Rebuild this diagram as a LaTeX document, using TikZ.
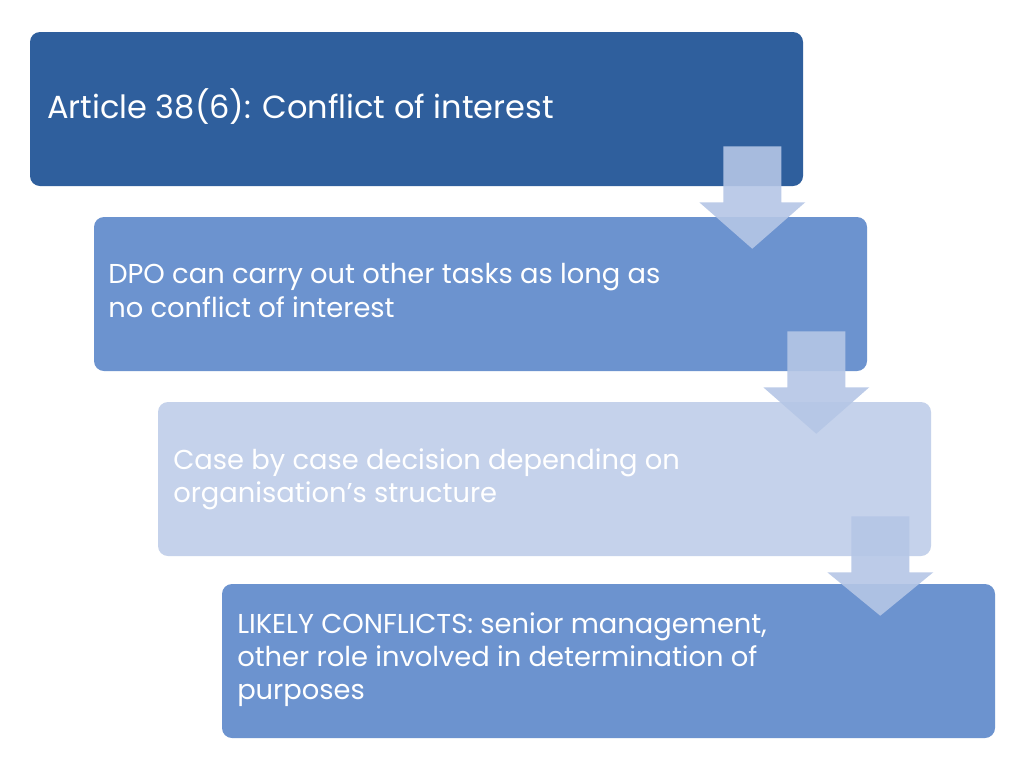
\documentclass[tikz,border=0pt]{standalone}
\usepackage{fontspec}
\setmainfont{Poppins}
\usetikzlibrary{calc}
\definecolor{cdark}{HTML}{2F5F9D}
\definecolor{cmid}{HTML}{6C93CF}
\definecolor{clight}{HTML}{C5D2EB}
\definecolor{carrow}{HTML}{B5C6E6}
\tikzset{
  box/.style={rectangle, rounded corners=7.5pt, minimum width=579.75pt, minimum height=115.5pt, inner sep=0pt, draw=none},
  label/.style={anchor=north west, inner sep=0pt, align=left, text=white, font=\fontsize{20.5}{24.75}\selectfont},
  biglabel/.style={label, font=\fontsize{24}{24.75}\selectfont},
  flowarrow/.style={fill=carrow, fill opacity=0.9, draw=none}
}
\newcommand\flowdown[2]{%
  \fill[flowarrow] ($(#1.south east)+(-80,-40)$) -- ($(#1.south east)+(-22,-40)$)
    -- ($(#1.south east)+(-22,16)$) -- ($(#1.south east)+(2,16)$)
    -- ($(#2.north east)+(-115,32)$)
    -- ($(#1.south east)+(-104,16)$) -- ($(#1.south east)+(-80,16)$) -- cycle;}
\begin{document}
\begin{tikzpicture}[x=0.75pt,y=-0.75pt]
\useasboundingbox[fill=white] (0,0) rectangle (1024,768);
\node[box, fill=cdark] (b1) at (416.5,109) {};
\node[box, fill=cmid] (b2) at (480.5,294) {};
\node[box, fill=clight] (b3) at (544.5,479) {};
\node[box, fill=cmid] (b4) at (608.5,661) {};
\node[biglabel] (t1) at (47,88.5) {Article 38(6): Conflict of interest};
\node[label] (t2) at (108,263.5) {DPO can carry out other tasks as long as\\no conflict of interest};
\node[label] (t3) at (173,448.5) {Case by case decision depending on\\organisation’s structure};
\node[label] (t4) at (237,612.5) {LIKELY CONFLICTS: senior management,\\other role involved in determination of\\purposes};
\flowdown{b1}{b2}
\flowdown{b2}{b3}
\flowdown{b3}{b4}
\end{tikzpicture}
\end{document}
